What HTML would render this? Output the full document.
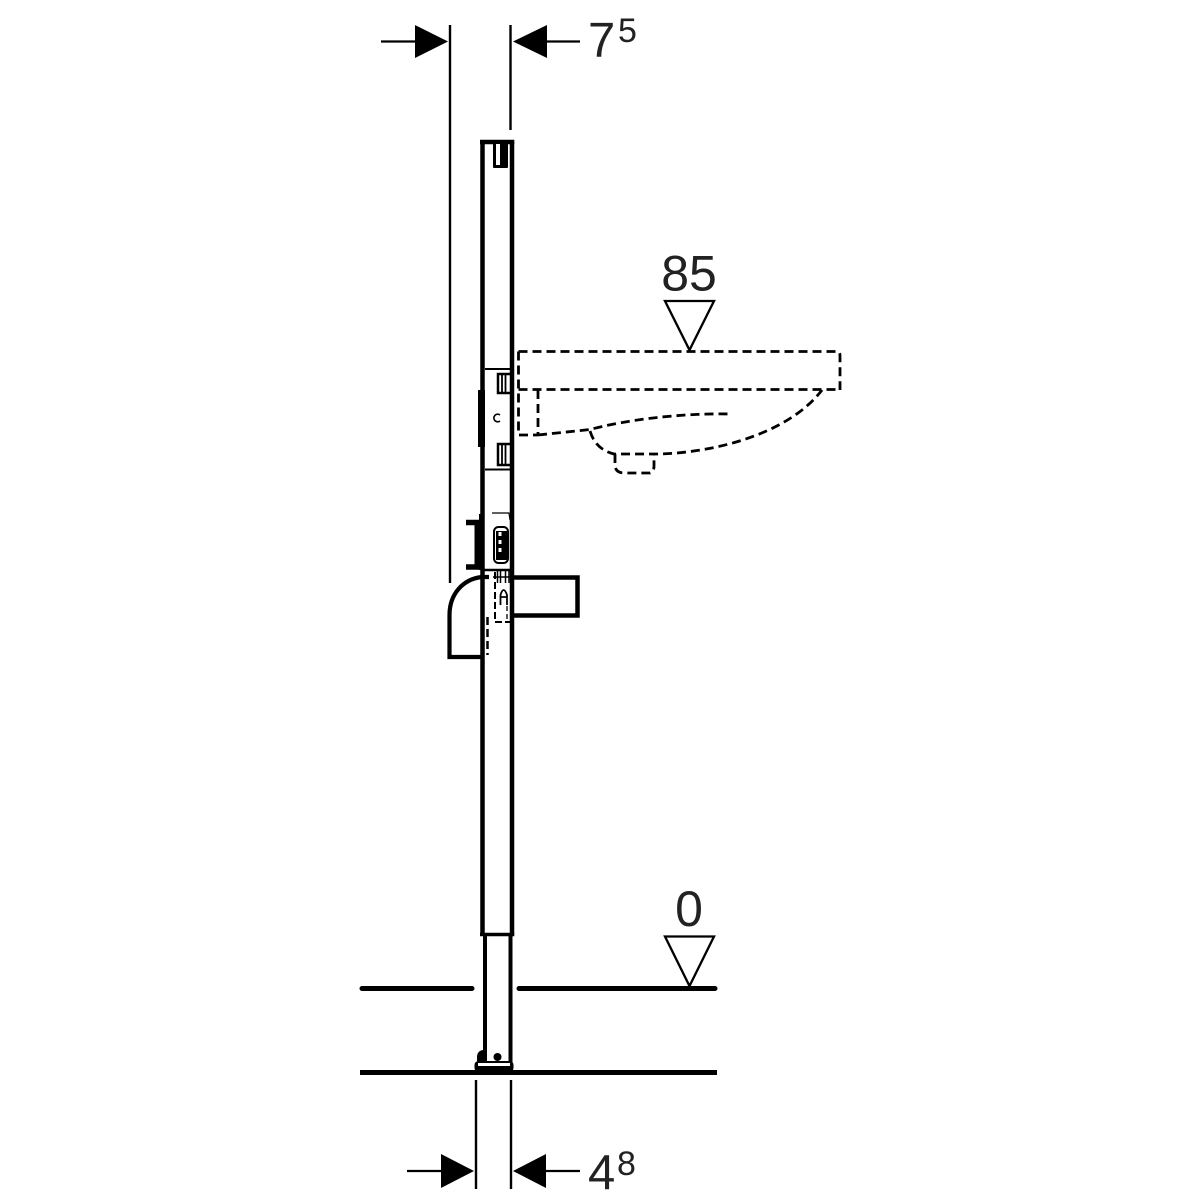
<!DOCTYPE html>
<html><head><meta charset="utf-8"><style>
html,body{margin:0;padding:0;background:#fff}
svg{display:block}
text{font-family:"Liberation Sans",sans-serif;fill:#222}
</style></head><body>
<svg width="1200" height="1200" viewBox="0 0 1200 1200" xmlns="http://www.w3.org/2000/svg">
<rect width="1200" height="1200" fill="#fff"/>
<g fill="none" stroke="#000" stroke-linecap="butt">
<!-- top dimension -->
<path d="M450 25V583M510.500 25V130" stroke-width="2.400"/>
<path d="M381 41.500H416M546 41.500H580" stroke-width="2.200"/>
<!-- bottom dimension -->
<path d="M476 1080V1189M511 1080V1189" stroke-width="2.400"/>
<path d="M407 1171H442M545 1171H580" stroke-width="2.200"/>
<!-- post -->
<path d="M482.500 142V934M512 142V934" stroke-width="4.500"/>
<path d="M480 142H514.300" stroke-width="4.500"/>
<path d="M480 934.500H514.300" stroke-width="3.500"/>
<path d="M485 936V1064M510.500 936V1064" stroke-width="4"/>
<!-- floors -->
<path d="M362 988.500H472M519 988.500H715" stroke-width="5" stroke-linecap="round"/>
<path d="M360 1072.500H717" stroke-width="5"/>
<!-- level triangles -->
<path d="M665 301H714L689.500 350Z" stroke-width="2.300"/>
<path d="M665 936.500H714L689.500 986Z" stroke-width="2.300"/>
<!-- basin -->
<g stroke-width="2.800" stroke-dasharray="9 5">
<path d="M518.500 351.500H838Q840 352 840 356V390"/>
<path d="M518.500 389.500H840"/>
<path d="M518.500 351.500V435H538"/>
<path d="M538 390V435"/>
<path d="M538 435L590 429.500C625 420 680 413 730 414"/>
<path d="M590 431C594 444 602 451 614 454H660C720 452 790 432 822 390"/>
<path d="M615 454V466Q616 473 624 473H650Q654 472 654 466V454"/>
</g>
<!-- upper bracket -->
<path d="M485 369H510M485 469.500H510" stroke-width="2"/>
<path d="M481.500 390V447" stroke-width="7"/>
<path d="M511 374H498V393H511" stroke-width="2.500"/>
<path d="M502 375V393M505.500 375V393" stroke-width="1.800"/>
<path d="M511 444H498V465H511" stroke-width="2.500"/>
<path d="M502 445V465M505.500 445V465" stroke-width="1.800"/>
<path d="M500 415A3.800 3.800 0 1 0 500 421" stroke-width="1.600"/>
<!-- middle unit -->
<path d="M492 513H509L510 520" stroke-width="1.200"/>
<rect x="494" y="527" width="14" height="36" rx="4.500" stroke-width="2"/>
<rect x="496" y="531" width="11" height="29" fill="#000" stroke="none"/>
<path d="M498.500 534H501.500M498.500 542H501.500M498.500 550H501.500" stroke="#fff" stroke-width="4"/>
<path d="M466 522.500H481M466 567H481" stroke-width="5.500"/>
<path d="M478 522V567" stroke-width="7"/>
<path d="M481 514V570" stroke-width="4"/>
<path d="M484 570H512" stroke-width="2.500"/>
<path d="M495 572V622H511" stroke-width="2" stroke-dasharray="7 3"/>
<path d="M497.500 570V583M500.500 570V583M505.500 570V583M509 570V583M493 577H511" stroke-width="1.500"/>
<path d="M500.500 605V595Q503.500 585 507 595V605M500.500 597H507" stroke-width="1.800"/>
<path d="M507 606V622" stroke-width="1.300" stroke-dasharray="5 3"/>
<!-- box -->
<path d="M513 577.500H577.500V615.500H513" stroke-width="4.500"/>
<!-- elbow -->
<path d="M489 577H482C463 579 449.500 594 449.500 615V657H483" stroke-width="4.200"/>
<path d="M487.500 617V655" stroke-width="2.500" stroke-dasharray="8 4"/>
</g>
<!-- top slot -->
<rect x="493" y="142" width="15" height="26" rx="1" fill="#000"/>
<rect x="496" y="144" width="4" height="21" fill="#fff"/>
<!-- foot -->
<rect x="474.500" y="1061" width="39" height="11" rx="4" fill="#000"/>
<rect x="478" y="1063" width="32" height="3" fill="#fff"/>
<path d="M477 1062V1056Q478 1050 484 1050V1062Z" fill="#000"/>
<circle cx="497.500" cy="1057" r="4" fill="#000"/>
<!-- arrowheads -->
<path d="M415 25L448 41.500L415 58Z" fill="#000"/>
<path d="M547 25L513 41.500L547 58Z" fill="#000"/>
<path d="M441 1154L474 1171L441 1188Z" fill="#000"/>
<path d="M546 1154L513 1171L546 1188Z" fill="#000"/>
<!-- labels -->
<text x="588" y="56.500" font-size="49">7</text>
<text x="618" y="42" font-size="34">5</text>
<text x="588" y="1189" font-size="49">4</text>
<text x="617" y="1175" font-size="34">8</text>
<text x="689" y="290.500" font-size="50" text-anchor="middle">85</text>
<text x="689" y="926" font-size="50" text-anchor="middle">0</text>
</svg>
</body></html>
